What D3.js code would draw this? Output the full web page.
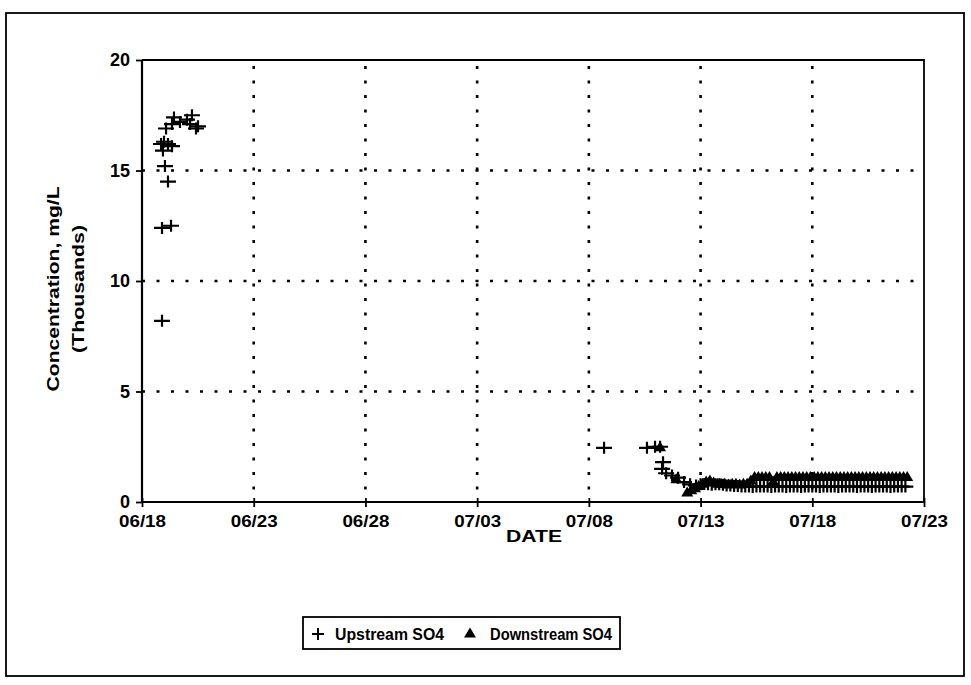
<!DOCTYPE html>
<html>
<head>
<meta charset="utf-8">
<script src="https://cdn.jsdelivr.net/npm/d3@7"></script>
<style>
  html, body { margin: 0; padding: 0; background: #fff; }
  svg { display: block; }
  text { font-family: "Liberation Sans", Arial, sans-serif; font-weight: bold; fill: #000; }
</style>
</head>
<body>
<svg id="chart" width="971" height="685"></svg>
<script>
// ---------------- DATA ----------------
const xTickLabels = ["06/18", "06/23", "06/28", "07/03", "07/08", "07/13", "07/18", "07/23"];
const yTickValues = [0, 5, 10, 15, 20];
const yTickLabels = ["0", "5", "10", "15", "20"];
const seriesNames = ["Upstream SO4", "Downstream SO4"];

// Upstream SO4 (thousand mg/L)
const upstreamTimes = [
  "06/18 21:30", "06/18 21:30", "06/19 07:10", "06/19 03:55", "06/19 00:40", "06/18 22:30",
  "06/18 20:30", "06/18 23:40", "06/19 03:55", "06/19 08:15", "06/19 01:50", "06/19 08:15",
  "06/19 10:20", "06/19 16:50", "06/20 00:20", "06/20 05:40", "06/20 03:35", "06/20 10:00",
  "06/20 12:10",
  "07/08 16:20", "07/10 14:25", "07/10 23:05", "07/11 04:30", "07/11 07:40", "07/11 06:40",
  "07/11 11:00", "07/11 17:20", "07/11 23:50", "07/12 06:15", "07/12 12:45", "07/12 19:10",
  "07/13 00:00", "07/13 04:00", "07/13 08:00", "07/13 12:00", "07/13 16:00", "07/13 20:00",
  "07/14 00:00", "07/14 04:00", "07/14 08:00", "07/14 12:00", "07/14 16:00", "07/14 20:00",
  "07/15 00:00", "07/15 04:00", "07/15 08:00", "07/15 12:00", "07/15 16:00", "07/15 20:00",
  "07/16 00:00", "07/16 04:00", "07/16 08:00", "07/16 12:00", "07/16 16:00", "07/16 20:00",
  "07/17 00:00", "07/17 04:00", "07/17 08:00", "07/17 12:00", "07/17 16:00", "07/17 20:00",
  "07/18 00:00", "07/18 04:00", "07/18 08:00", "07/18 12:00", "07/18 16:00", "07/18 20:00",
  "07/19 00:00", "07/19 04:00", "07/19 08:00", "07/19 12:00", "07/19 16:00", "07/19 20:00",
  "07/20 00:00", "07/20 04:00", "07/20 08:00", "07/20 12:00", "07/20 16:00", "07/20 20:00",
  "07/21 00:00", "07/21 04:00", "07/21 08:00", "07/21 12:00", "07/21 16:00", "07/21 20:00",
  "07/22 00:00", "07/22 04:00"
];
const upstreamValues = [
  8.2, 12.4, 12.5, 14.5, 15.2, 15.9,
  16.2, 16.3, 16.2, 16.1, 16.9, 17.1,
  17.4, 17.2, 17.3, 17.5, 17.1, 16.9,
  17.0,
  2.45, 2.45, 2.5, 2.5, 1.8, 1.5,
  1.3, 1.2, 1.1, 0.9, 0.8, 0.75,
  0.8, 0.82, 0.8, 0.78, 0.8, 0.8,
  0.78, 0.75, 0.75, 0.72, 0.72, 0.7,
  0.7, 0.7, 0.68, 0.7, 0.7, 0.7,
  0.7, 0.68, 0.7, 0.7, 0.7, 0.68,
  0.7, 0.7, 0.7, 0.68, 0.7, 0.7,
  0.7, 0.7, 0.68, 0.7, 0.7, 0.7,
  0.7, 0.68, 0.7, 0.7, 0.7, 0.7,
  0.68, 0.7, 0.7, 0.7, 0.68, 0.7,
  0.7, 0.7, 0.7, 0.68, 0.7, 0.7,
  0.7, 0.7
];

// Downstream SO4 (thousand mg/L)
const downstreamTimes = [
  "07/11 04:30", "07/11 22:00",
  "07/12 09:40", "07/12 14:00", "07/12 18:00", "07/12 22:00",
  "07/13 02:00", "07/13 06:00", "07/13 10:00", "07/13 14:00", "07/13 18:00", "07/13 22:00",
  "07/14 02:00", "07/14 06:00", "07/14 10:00", "07/14 14:00", "07/14 18:00", "07/14 22:00",
  "07/15 02:00", "07/15 06:00", "07/15 10:00", "07/15 14:00", "07/15 18:00", "07/15 22:00",
  "07/16 02:00", "07/16 06:00", "07/16 10:00", "07/16 14:00", "07/16 18:00", "07/16 22:00",
  "07/17 02:00", "07/17 06:00", "07/17 10:00", "07/17 14:00", "07/17 18:00", "07/17 22:00",
  "07/18 02:00", "07/18 06:00", "07/18 10:00", "07/18 14:00", "07/18 18:00", "07/18 22:00",
  "07/19 02:00", "07/19 06:00", "07/19 10:00", "07/19 14:00", "07/19 18:00", "07/19 22:00",
  "07/20 02:00", "07/20 06:00", "07/20 10:00", "07/20 14:00", "07/20 18:00", "07/20 22:00",
  "07/21 02:00", "07/21 06:00", "07/21 10:00", "07/21 14:00", "07/21 18:00", "07/21 22:00",
  "07/22 02:00", "07/22 06:00"
];
const downstreamValues = [
  2.5, 1.05,
  0.45, 0.55, 0.65, 0.75,
  0.85, 0.95, 1.0, 0.9, 0.85, 0.85,
  0.85, 0.82, 0.85, 0.85, 0.82, 0.85,
  0.85, 1.0, 1.15, 1.15, 1.15, 1.15,
  1.15, 0.95, 1.15, 1.15, 1.15, 1.15,
  1.15, 1.15, 1.15, 1.15, 1.15, 1.15,
  1.15, 1.15, 1.15, 1.15, 1.15, 1.15,
  1.15, 1.15, 1.15, 1.15, 1.15, 1.15,
  1.15, 1.15, 1.15, 1.15, 1.15, 1.15,
  1.15, 1.15, 1.15, 1.15, 1.15, 1.15,
  1.15, 1.15
];

// ---------------- CHART ----------------
const parseTick = d3.timeParse("%m/%d");
const parseTime = d3.timeParse("%m/%d %H:%M");
const svg = d3.select("#chart");

const plot = { left: 142, right: 924, top: 60, bottom: 502 };

const xTickDates = xTickLabels.map(parseTick);
const x = d3.scaleTime()
  .domain([xTickDates[0], xTickDates[xTickDates.length - 1]])
  .range([plot.left, plot.right]);
const y = d3.scaleLinear().domain([0, 20]).range([plot.bottom, plot.top]);

// outer frame
svg.append("rect").attr("x", 6).attr("y", 13).attr("width", 958).attr("height", 663)
  .attr("fill", "none").attr("stroke", "#000").attr("stroke-width", 1.8);

// gridlines
const grid = svg.append("g");
grid.selectAll("line.v").data(xTickDates.slice(1, -1)).join("line")
  .attr("x1", d => x(d)).attr("x2", d => x(d))
  .attr("y1", plot.top + 6).attr("y2", plot.bottom)
  .attr("stroke", "#000").attr("stroke-width", 2.6).attr("stroke-dasharray", "3,11.5");
grid.selectAll("line.h").data(yTickValues.slice(1, -1)).join("line")
  .attr("x1", plot.left).attr("x2", plot.right)
  .attr("y1", d => y(d)).attr("y2", d => y(d))
  .attr("stroke", "#000").attr("stroke-width", 2.6).attr("stroke-dasharray", "3,11.5");

// plot border (top & right)
svg.append("path")
  .attr("d", `M${plot.left},${plot.top}H${plot.right}V${plot.bottom}`)
  .attr("fill", "none").attr("stroke", "#000").attr("stroke-width", 1.8);

// data
const plusPath = "M-8,0H8M0,-6V6";
const triPath = "M0,-5.5L6,4.5L-6,4.5Z";

const upData = upstreamTimes.map((t, i) => ({ t: parseTime(t), v: upstreamValues[i] }));
const downData = downstreamTimes.map((t, i) => ({ t: parseTime(t), v: downstreamValues[i] }));

svg.append("g").selectAll("path").data(downData).join("path")
  .attr("d", triPath)
  .attr("transform", d => `translate(${x(d.t)},${y(d.v)})`)
  .attr("fill", "#000");

svg.append("g").selectAll("path").data(upData).join("path")
  .attr("d", plusPath)
  .attr("transform", d => `translate(${x(d.t)},${y(d.v)})`)
  .attr("fill", "none").attr("stroke", "#000").attr("stroke-width", 2.2);

// axes
const xAxis = svg.append("g").attr("transform", `translate(0,${plot.bottom})`)
  .call(d3.axisBottom(x).tickValues(xTickDates).tickFormat((d, i) => xTickLabels[i]).tickSize(5).tickPadding(8));
xAxis.select(".domain").attr("stroke-width", 2.2).attr("d", `M${plot.left},0H${plot.right}`);
xAxis.selectAll(".tick line").attr("y1", -4).attr("y2", 5).attr("stroke-width", 1.8);
xAxis.selectAll(".tick text").style("font-size", "17px").attr("font-family", null)
  .attr("textLength", 47).attr("lengthAdjust", "spacingAndGlyphs");

const yAxis = svg.append("g").attr("transform", `translate(${plot.left},0)`)
  .call(d3.axisLeft(y).tickValues(yTickValues).tickFormat((d, i) => yTickLabels[i]).tickSize(6).tickPadding(6));
yAxis.select(".domain").attr("stroke-width", 2.2).attr("d", `M0,${plot.top}V${plot.bottom}`);
yAxis.selectAll(".tick line").attr("stroke-width", 1.8);
yAxis.selectAll(".tick text").style("font-size", "18px").attr("font-family", null);

// axis titles
svg.append("text").attr("x", 534).attr("y", 542).attr("text-anchor", "middle")
  .style("font-size", "17px").attr("textLength", 56).attr("lengthAdjust", "spacingAndGlyphs")
  .text("DATE");

svg.append("text").attr("transform", "translate(59,289) rotate(-90)").attr("text-anchor", "middle")
  .style("font-size", "16px").attr("textLength", 205).attr("lengthAdjust", "spacingAndGlyphs")
  .text("Concentration, mg/L");
svg.append("text").attr("transform", "translate(84,289) rotate(-90)").attr("text-anchor", "middle")
  .style("font-size", "16px").attr("textLength", 128).attr("lengthAdjust", "spacingAndGlyphs")
  .text("(Thousands)");

// legend
const lg = svg.append("g");
lg.append("rect").attr("x", 303).attr("y", 617).attr("width", 317).attr("height", 32)
  .attr("fill", "#fff").attr("stroke", "#000").attr("stroke-width", 1.8);
lg.append("path").attr("d", "M-6,0H6M0,-6V6").attr("transform", "translate(318,634)")
  .attr("fill", "none").attr("stroke", "#000").attr("stroke-width", 2);
lg.append("text").attr("x", 335).attr("y", 640).style("font-size", "16px")
  .attr("textLength", 109).attr("lengthAdjust", "spacingAndGlyphs").text(seriesNames[0]);
lg.append("path").attr("d", "M0,-5.5L6,4.5L-6,4.5Z").attr("transform", "translate(470,633)")
  .attr("fill", "#000");
lg.append("text").attr("x", 490).attr("y", 640).style("font-size", "16px")
  .attr("textLength", 122).attr("lengthAdjust", "spacingAndGlyphs").text(seriesNames[1]);
</script>
</body>
</html>
